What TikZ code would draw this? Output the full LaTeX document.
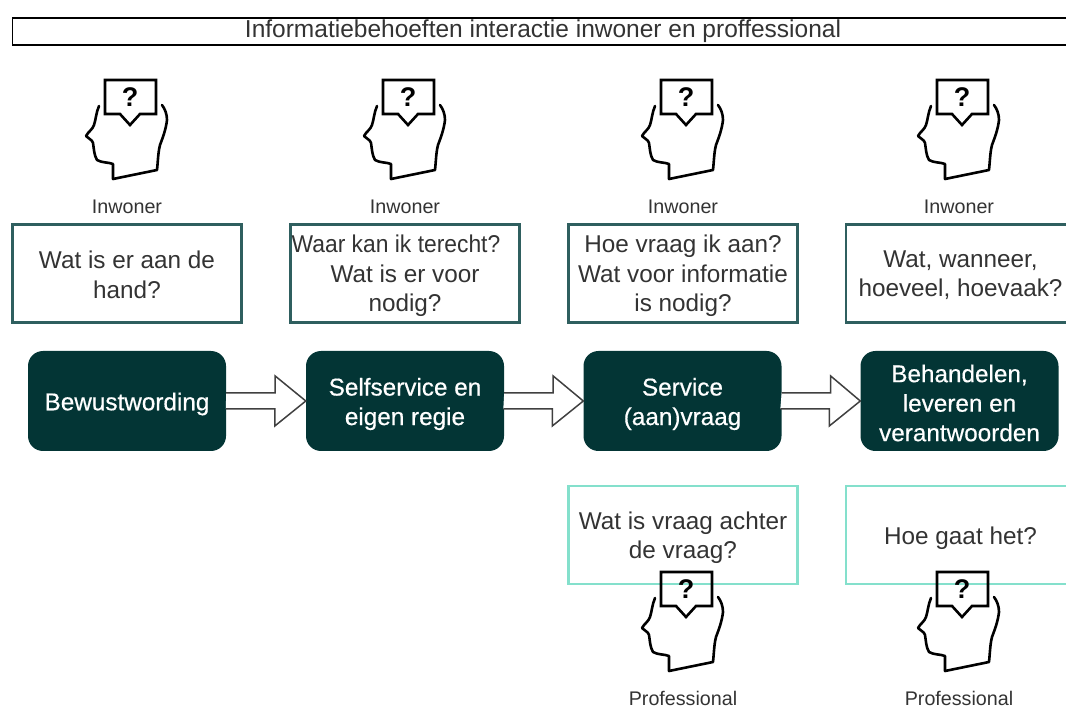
\documentclass[tikz,border=0pt]{standalone}
\usepackage{fontspec}
\setmainfont{Liberation Sans}
\newfontfamily\stepfont[FakeBold=0.5]{Liberation Sans}
\definecolor{darkbox}{HTML}{033535}
\definecolor{tealline}{HTML}{2F5F5F}
\definecolor{mintline}{HTML}{84E0CC}
\definecolor{txt}{HTML}{333333}
\newcommand{\fs}[1]{\fontsize{#1}{29.5}\selectfont}
\tikzset{
  x=1pt,y=-1pt,
  titlebox/.style={draw=black,line width=1.2pt,fill=white,minimum width=1060pt,minimum height=27pt,inner sep=0pt},
  qbox/.style={draw=tealline,line width=2.5pt,fill=white,minimum width=229pt,minimum height=98pt,inner sep=0pt},
  pbox/.style={qbox,draw=mintline},
  qtext/.style={inner sep=0pt,align=center,text=txt,font=\fs{24.3}},
  stepbox/.style={fill=darkbox,rounded corners=15pt,minimum width=198pt,minimum height=100pt,inner sep=0pt},
  steptext/.style={inner sep=0pt,align=center,text=white,font=\stepfont\fs{24.3}},
  rolelabel/.style={text=txt,font=\fontsize{19.7}{21}\selectfont,inner sep=0pt},
  hollow/.style={draw=black!75,line width=1.5pt,fill=white,line join=miter},
  headline/.style={draw=black,line width=2.6pt,line cap=round,line join=round},
  pics/thinker/.style={code={
    \draw[headline,line join=miter] (-25,-45)--(26,-45)--(26,-11)--(10,-11)--(0,0)--(-10,-11)--(-25,-11)--cycle;
    \node[inner sep=0pt,font=\bfseries\fontsize{27}{27}\selectfont,text=black] at (0,-28) {?};
    \draw[headline] (-31,-19) .. controls (-34,-12) and (-34,-6) .. (-36,0) .. controls (-37,4) and (-42,7) .. (-44,11) .. controls (-42,14) and (-38,14) .. (-37,18) .. controls (-36,24) and (-36,30) .. (-33,35) .. controls (-28,38) and (-22,37) .. (-17,39) .. controls (-17,44) and (-17,49) .. (-17,54) -- (27,45) .. controls (28,36) and (28,28) .. (30,20) .. controls (33,12) and (36,4) .. (37,-5) .. controls (37,-11) and (35,-16) .. (32,-20);
  }}
}
\begin{document}
\begin{tikzpicture}
\useasboundingbox (0,0) rectangle (1066,708);
\clip (0,0) rectangle (1066,708);
\node[titlebox,anchor=west] (title) at (12,31.5) {};
\node[text=txt,font=\fs{24.5},inner sep=0pt] (titletext) at (543,31) {Informatiebehoeften interactie inwoner en proffessional};

\node[qbox,label={[qtext,yshift=-1.5pt]center:{Wat is er aan de\\hand?}}] (q1) at (127,273.5) {};
\node[qbox,label={[qtext,yshift=-2.5pt]center:{\hspace*{-18pt}\scalebox{0.94}[1]{Waar kan ik terecht?}\\Wat is er voor\\nodig?}}] (q2) at (405,273.5) {};
\node[qbox,label={[qtext,yshift=-2.5pt]center:{Hoe vraag ik aan?\\Wat voor informatie\\is nodig?}}] (q3) at (683,273.5) {};
\node[qbox,label={[qtext,yshift=-1.5pt]center:{Wat, wanneer,\\hoeveel, hoevaak?}}] (q4) at (960.5,273.5) {};

\node[stepbox,label={[steptext,yshift=-3pt]center:{Bewustwording}}] (s1) at (127,401) {};
\node[stepbox,label={[steptext,yshift=-3pt]center:{Selfservice en\\eigen regie}}] (s2) at (405,401) {};
\node[stepbox,label={[steptext,yshift=-3pt]center:{Service\\(aan)vraag}}] (s3) at (682.5,401) {};
\node[stepbox,label={[steptext,yshift=-2pt]center:{Behandelen,\\leveren en\\verantwoorden}}] (s4) at (959.5,401) {};

\foreach \a/\b in {s1/s2,s2/s3,s3/s4}{
  \draw[hollow] (\a.east) ++(0,-8) -- ++(49,0) -- ++(0,-17) -- (\b.west) -- ++(-31,25) -- ++(0,-17) -- ++(-49,0);
}

\node[pbox,label={[qtext,yshift=-2.5pt]center:{Wat is vraag achter\\de vraag?}}] (p3) at (683,535) {};
\node[pbox,label={[qtext,yshift=-3pt]center:{Hoe gaat het?}}] (p4) at (960.5,535) {};

\pic at (130,125) {thinker};
\pic at (408,125) {thinker};
\pic at (686,125) {thinker};
\pic at (962,125) {thinker};
\pic at (686,617) {thinker};
\pic at (962,617) {thinker};

\node[rolelabel] (r1) at (127,207) {Inwoner};
\node[rolelabel] (r2) at (405,207) {Inwoner};
\node[rolelabel] (r3) at (683,207) {Inwoner};
\node[rolelabel] (r4) at (959,207) {Inwoner};
\node[rolelabel] (r5) at (683,698) {Professional};
\node[rolelabel] (r6) at (959,698) {Professional};
\end{tikzpicture}
\end{document}
